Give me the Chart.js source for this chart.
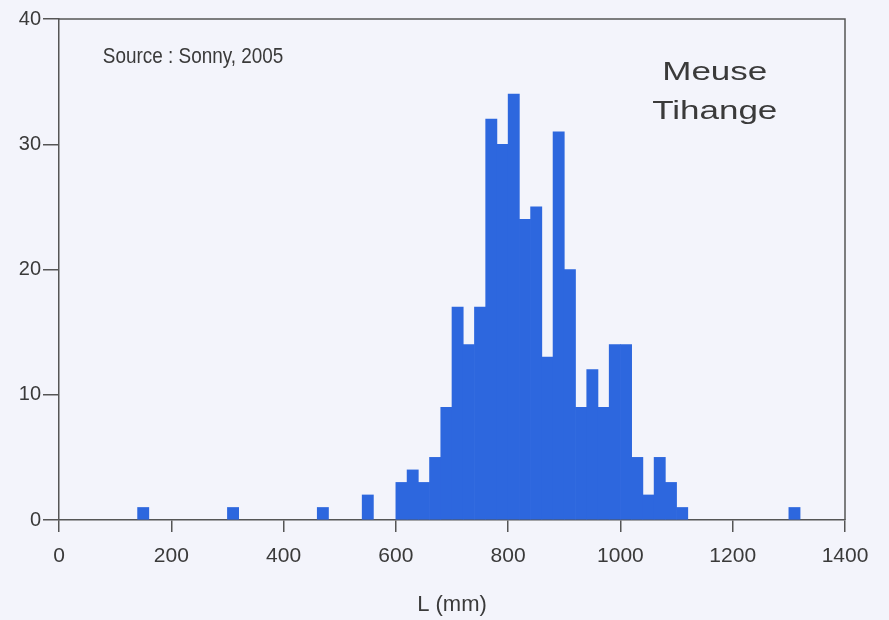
<!DOCTYPE html>
<html>
<head>
<meta charset="utf-8">
<script src="https://cdn.jsdelivr.net/npm/chart.js@4"></script>
<style>
  html, body { margin: 0; padding: 0; background: #f3f4fb; }
  #wrap { width: 889px; height: 620px; }
</style>
</head>
<body>
<div id="wrap"><canvas id="histChart" width="889" height="620"></canvas></div>
<script>
// Histogram of L (mm), bins of 20 mm: left edge of each bin and its count
const binWidth = 20;
const binLefts = [140, 300, 460, 540,
    600, 620, 640, 660, 680, 700, 720, 740, 760, 780,
    800, 820, 840, 860, 880, 900, 920, 940, 960, 980,
    1000, 1020, 1040, 1060, 1080, 1100, 1300];
const counts = [1, 1, 1, 2,
    3, 4, 3, 5, 9, 17, 14, 17, 32, 30,
    34, 24, 25, 13, 31, 20, 9, 12, 9, 14,
    14, 5, 2, 5, 3, 1, 1];
const xTicks = [0, 200, 400, 600, 800, 1000, 1200, 1400];
const yTicks = [0, 10, 20, 30, 40];

const axisColor = '#555';
const textColor = '#3a3a3a';
const sans = '"Liberation Sans", Arial, sans-serif';

// draws stretched / condensed text at a value position
function stretchedText(ctx, text, x, y, sx) {
    ctx.save();
    ctx.translate(x, y);
    ctx.scale(sx, 1);
    ctx.fillText(text, 0, 0);
    ctx.restore();
}

// frame on top/right + the two text blocks
const decorations = {
    id: 'decorations',
    afterDraw(chart) {
        const { ctx, chartArea: a, scales } = chart;
        ctx.save();
        ctx.strokeStyle = axisColor;
        ctx.lineWidth = 1.5;
        ctx.beginPath();
        ctx.moveTo(a.left, a.top);
        ctx.lineTo(a.right, a.top);
        ctx.lineTo(a.right, a.bottom);
        ctx.stroke();

        ctx.fillStyle = textColor;
        ctx.textBaseline = 'alphabetic';
        ctx.textAlign = 'left';
        ctx.font = '22px ' + sans;
        stretchedText(ctx, 'Source : Sonny, 2005',
            scales.x.getPixelForValue(78), scales.y.getPixelForValue(36.5), 0.86);

        ctx.font = '25px ' + sans;
        ctx.textAlign = 'center';
        const cx = scales.x.getPixelForValue(1168);
        stretchedText(ctx, 'Meuse', cx, scales.y.getPixelForValue(35.1), 1.4);
        stretchedText(ctx, 'Tihange', cx, scales.y.getPixelForValue(32.0), 1.4);
        ctx.restore();
    }
};

new Chart(document.getElementById('histChart').getContext('2d'), {
    type: 'bar',
    data: {
        datasets: [{
            data: binLefts.map((l, i) => ({ x: l + binWidth / 2, y: counts[i] })),
            backgroundColor: '#2d67de',
            borderWidth: 0,
            barPercentage: 1,
            categoryPercentage: 1,
        }],
    },
    options: {
        responsive: false,
        animation: false,
        layout: { padding: { top: 19, right: 44, left: 0, bottom: 0 } },
        plugins: { legend: { display: false }, tooltip: { enabled: false } },
        scales: {
            x: {
                type: 'linear',
                min: 0,
                max: 1400,
                offset: false,
                afterBuildTicks: (s) => { s.ticks = xTicks.map((v) => ({ value: v })); },
                afterFit: (s) => { s.height = 100; },
                ticks: {
                    color: textColor,
                    padding: 12,
                    maxRotation: 0,
                    callback: (v) => String(v),
                    font: { family: sans, size: 21 },
                },
                grid: {
                    offset: false,
                    drawOnChartArea: false,
                    drawTicks: true,
                    tickLength: 12,
                    color: axisColor,
                    lineWidth: 1.5,
                },
                border: { color: axisColor, width: 1.5 },
                title: {
                    display: true,
                    text: 'L (mm)',
                    color: textColor,
                    padding: { top: 0, bottom: 2 },
                    font: { family: sans, size: 22 },
                },
            },
            y: {
                min: 0,
                max: 40,
                afterBuildTicks: (s) => { s.ticks = yTicks.map((v) => ({ value: v })); },
                afterFit: (s) => { s.width = 59; },
                ticks: {
                    color: textColor,
                    padding: 2,
                    callback: (v) => String(v),
                    font: { family: sans, size: 20 },
                },
                grid: {
                    drawOnChartArea: false,
                    drawTicks: true,
                    tickLength: 16,
                    color: axisColor,
                    lineWidth: 1.5,
                },
                border: { color: axisColor, width: 1.5 },
            },
        },
    },
    plugins: [decorations],
});
</script>
</body>
</html>
